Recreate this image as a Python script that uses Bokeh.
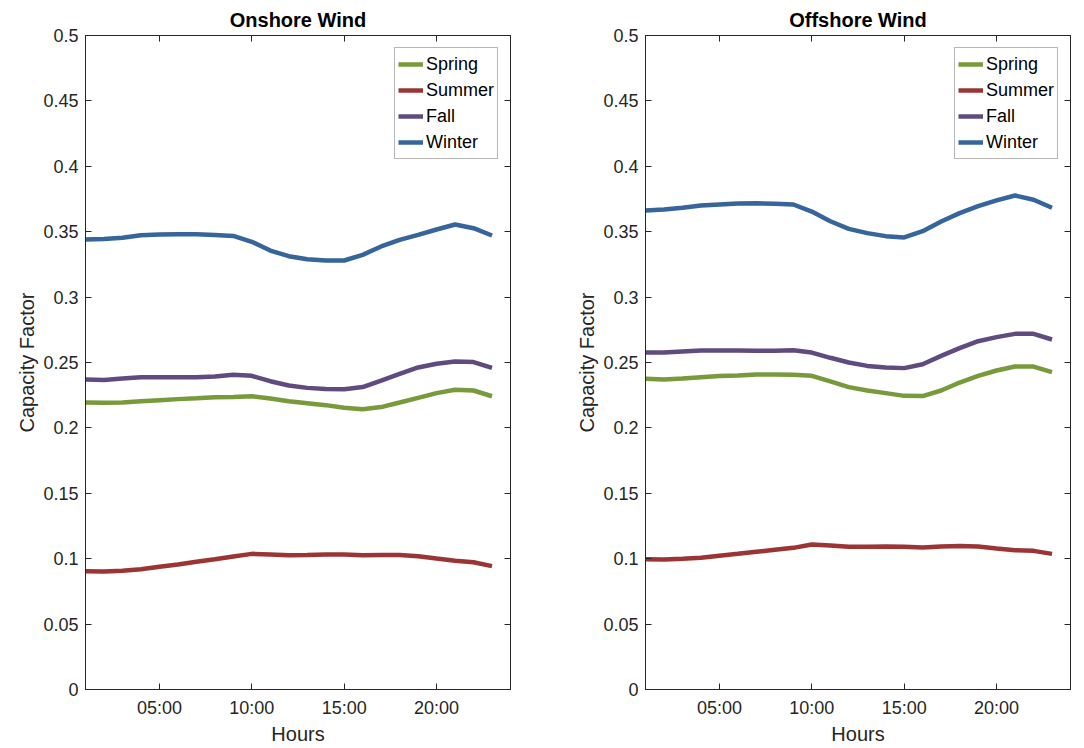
from bokeh.plotting import figure
from bokeh.layouts import row
from bokeh.models import Range1d, FixedTicker, LinearAxis, Legend, LegendItem
from bokeh.embed import file_html
from bokeh.resources import INLINE

# Hour of day for each averaged value
hours = list(range(1, 24))

# Onshore wind capacity factor by season
onshore_spring = [0.2194, 0.2192, 0.2194, 0.2204, 0.2212, 0.2220, 0.2227, 0.2235, 0.2237, 0.2242,
                  0.2225, 0.2204, 0.2189, 0.2174, 0.2154, 0.2143, 0.2159, 0.2194, 0.2230, 0.2266,
                  0.2291, 0.2286, 0.2242]
onshore_summer = [0.0905, 0.0902, 0.0907, 0.0920, 0.0938, 0.0956, 0.0976, 0.0996, 0.1017, 0.1037,
                  0.1032, 0.1027, 0.1029, 0.1032, 0.1032, 0.1027, 0.1029, 0.1029, 0.1019, 0.1001,
                  0.0984, 0.0973, 0.0943]
onshore_fall = [0.2370, 0.2367, 0.2378, 0.2388, 0.2388, 0.2388, 0.2388, 0.2393, 0.2406, 0.2398,
                0.2357, 0.2324, 0.2306, 0.2298, 0.2296, 0.2312, 0.2362, 0.2413, 0.2462, 0.2490,
                0.2508, 0.2503, 0.2459]
onshore_winter = [0.3440, 0.3445, 0.3453, 0.3473, 0.3478, 0.3480, 0.3480, 0.3475, 0.3468, 0.3423,
                  0.3356, 0.3313, 0.3290, 0.3280, 0.3280, 0.3323, 0.3387, 0.3438, 0.3476, 0.3517,
                  0.3555, 0.3527, 0.3471]

# Offshore wind capacity factor by season
offshore_spring = [0.2375, 0.2370, 0.2378, 0.2388, 0.2396, 0.2401, 0.2408, 0.2408, 0.2406, 0.2398,
                   0.2355, 0.2312, 0.2286, 0.2266, 0.2245, 0.2243, 0.2286, 0.2347, 0.2398, 0.2439,
                   0.2469, 0.2469, 0.2426]
offshore_summer = [0.0996, 0.0994, 0.0999, 0.1007, 0.1022, 0.1037, 0.1053, 0.1068, 0.1083, 0.1109,
                   0.1101, 0.1091, 0.1091, 0.1093, 0.1091, 0.1086, 0.1093, 0.1098, 0.1093, 0.1078,
                   0.1065, 0.1060, 0.1037]
offshore_fall = [0.2576, 0.2576, 0.2584, 0.2592, 0.2592, 0.2592, 0.2589, 0.2589, 0.2594, 0.2576,
                 0.2536, 0.2500, 0.2474, 0.2462, 0.2457, 0.2487, 0.2551, 0.2610, 0.2663, 0.2694,
                 0.2719, 0.2719, 0.2676]
offshore_winter = [0.3662, 0.3670, 0.3683, 0.3700, 0.3708, 0.3716, 0.3718, 0.3713, 0.3708, 0.3654,
                   0.3580, 0.3522, 0.3489, 0.3466, 0.3456, 0.3504, 0.3578, 0.3642, 0.3695, 0.3739,
                   0.3777, 0.3744, 0.3683]

seasons = ["Spring", "Summer", "Fall", "Winter"]
season_colors = ["#779a3a", "#9b3535", "#5f4b7f", "#35659a"]

x_ticks = [5, 10, 15, 20]
x_tick_labels = ["05:00", "10:00", "15:00", "20:00"]
y_ticks = [0, 0.05, 0.1, 0.15, 0.2, 0.25, 0.3, 0.35, 0.4, 0.45, 0.5]
y_tick_labels = ["0", "0.05", "0.1", "0.15", "0.2", "0.25", "0.3", "0.35", "0.4", "0.45", "0.5"]

FONT = "Liberation Sans"
INK = "#262626"


def style_axis(ax, show_labels=True):
    ax.axis_line_color = INK
    ax.major_tick_line_color = INK
    ax.major_tick_in = 6
    ax.major_tick_out = 0
    ax.minor_tick_line_color = None
    ax.major_label_text_font = FONT
    ax.axis_label_text_font = FONT
    ax.axis_label_text_color = INK
    ax.axis_label_text_font_style = "normal"
    ax.axis_label_text_font_size = "20px"
    if show_labels:
        ax.major_label_text_color = INK
        ax.major_label_text_font_size = "18px"
    else:
        # tick marks only; labels are not painted
        ax.major_label_text_color = None
        ax.major_label_text_font_size = "1px"
        ax.major_label_standoff = 0


def panel(title, series, border_left, border_right):
    p = figure(width=border_left + 425 + border_right, height=748,
               x_range=Range1d(1, 24), y_range=Range1d(0, 0.5),
               output_backend="svg", toolbar_location=None,
               min_border_left=border_left, min_border_right=border_right,
               min_border_top=35, min_border_bottom=59)
    p.title.text = title
    p.title.align = "center"
    p.title.text_font = FONT
    p.title.text_font_size = "20px"
    p.title.text_font_style = "bold"
    p.title.text_color = "#000000"
    p.title.standoff = 9
    p.xgrid.visible = False
    p.ygrid.visible = False
    p.outline_line_color = INK
    p.background_fill_color = "white"
    p.border_fill_color = "white"

    p.xaxis.ticker = FixedTicker(ticks=x_ticks)
    p.xaxis.major_label_overrides = dict(zip(x_ticks, x_tick_labels))
    p.xaxis.axis_label = "Hours"
    p.xaxis.major_label_standoff = 8
    p.xaxis.axis_label_standoff = 2
    p.yaxis.ticker = FixedTicker(ticks=y_ticks)
    p.yaxis.major_label_overrides = dict(zip(y_ticks, y_tick_labels))
    p.yaxis.axis_label = "Capacity Factor"
    p.yaxis.major_label_standoff = 7
    p.yaxis.axis_label_standoff = 2
    style_axis(p.xaxis[0])
    style_axis(p.yaxis[0])

    # mirrored ticks on the top and right edges of the box
    top = LinearAxis(ticker=FixedTicker(ticks=x_ticks))
    right = LinearAxis(ticker=FixedTicker(ticks=y_ticks))
    style_axis(top, show_labels=False)
    style_axis(right, show_labels=False)
    p.add_layout(top, "above")
    p.add_layout(right, "right")

    items = []
    for name, color, values in zip(seasons, season_colors, series):
        r = p.line(hours, values, line_color=color, line_width=4.5)
        items.append(LegendItem(label=name, renderers=[r]))

    legend = Legend(items=items, location="top_right")
    legend.margin = 12
    legend.padding = 3
    legend.spacing = 0
    legend.label_height = 26
    legend.glyph_height = 26
    legend.glyph_width = 25
    legend.label_standoff = 3
    legend.label_text_font = FONT
    legend.label_text_font_size = "18px"
    legend.label_text_color = "#000000"
    legend.border_line_color = "#6e6e6e"
    legend.border_line_width = 1
    legend.background_fill_color = "white"
    legend.background_fill_alpha = 1.0
    p.add_layout(legend, "center")
    return p


p1 = panel("Onshore Wind", [onshore_spring, onshore_summer, onshore_fall, onshore_winter], 85, 32)
p2 = panel("Offshore Wind", [offshore_spring, offshore_summer, offshore_fall, offshore_winter], 103, 14)

layout = row(p1, p2)
open("out.html", "w").write(file_html(layout, INLINE))
